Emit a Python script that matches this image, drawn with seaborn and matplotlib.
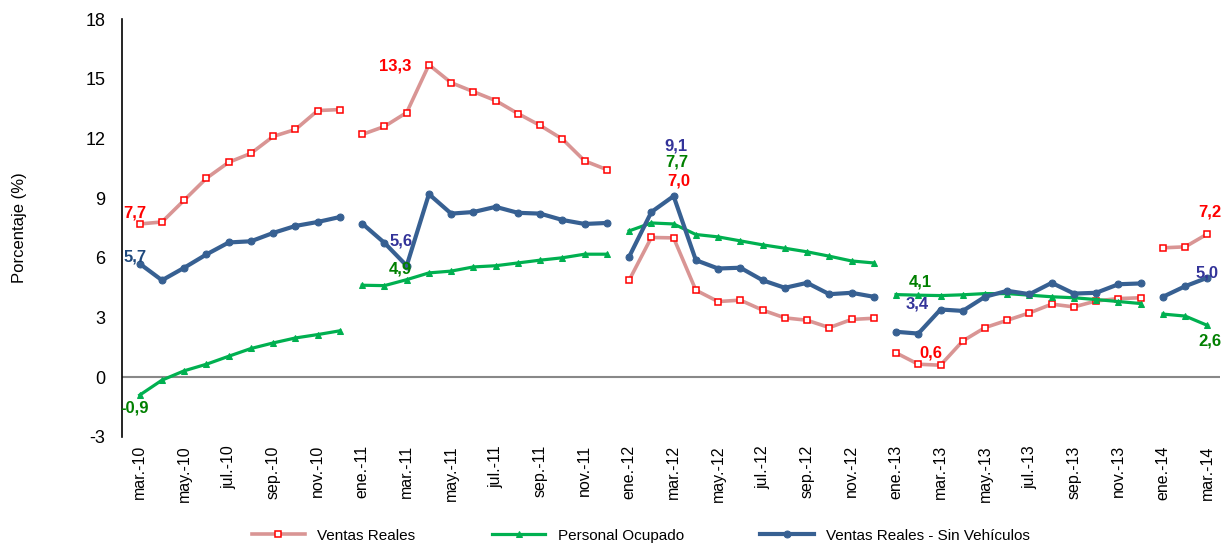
import pandas as pd
import seaborn as sns
import matplotlib.pyplot as plt

# months mar-10 .. mar-14
abbr = ['ene', 'feb', 'mar', 'abr', 'may', 'jun', 'jul', 'ago', 'sep', 'oct', 'nov', 'dic']
months = [f'{abbr[m]}.-{y}' for y in range(10, 15) for m in range(12)][2:51]
years = [int(m[-2:]) for m in months]

ventas = [7.7, 7.8, 8.9, 10.0, 10.8, 11.25, 12.1, 12.45, 13.4, 13.45,
          12.2, 12.6, 13.3, 15.7, 14.8, 14.35, 13.9, 13.25, 12.65, 11.97, 10.87, 10.43,
          4.87, 7.02, 7.0, 4.37, 3.8, 3.87, 3.37, 2.98, 2.86, 2.49, 2.9, 2.96,
          1.22, 0.65, 0.6, 1.82, 2.49, 2.86, 3.23, 3.67, 3.53, 3.83, 3.95, 3.99,
          6.5, 6.55, 7.2]
personal = [-0.9, -0.15, 0.32, 0.65, 1.05, 1.44, 1.72, 1.97, 2.14, 2.33,
            4.62, 4.6, 4.9, 5.24, 5.33, 5.54, 5.6, 5.74, 5.88, 6.0, 6.18, 6.18,
            7.35, 7.75, 7.7, 7.17, 7.05, 6.85, 6.65, 6.48, 6.3, 6.08, 5.84, 5.74,
            4.15, 4.12, 4.1, 4.14, 4.2, 4.2, 4.12, 4.04, 3.99, 3.9, 3.8, 3.7,
            3.17, 3.07, 2.6]
sin_veh = [5.7, 4.87, 5.5, 6.17, 6.77, 6.83, 7.25, 7.6, 7.8, 8.05,
           7.72, 6.75, 5.6, 9.2, 8.22, 8.3, 8.56, 8.26, 8.22, 7.9, 7.7, 7.75,
           6.05, 8.3, 9.1, 5.88, 5.46, 5.5, 4.87, 4.49, 4.74, 4.17, 4.24, 4.04,
           2.28, 2.19, 3.4, 3.33, 4.04, 4.34, 4.17, 4.74, 4.2, 4.24, 4.67, 4.71,
           4.04, 4.57, 5.0]

label_idx = [0, 12, 24, 36, 48]

df = pd.DataFrame({'idx': range(len(months)), 'year': years,
                   'ventas': ventas, 'personal': personal, 'sin_veh': sin_veh})

plt.rcParams['font.family'] = ['Liberation Sans', 'DejaVu Sans']
plt.rcParams['axes.unicode_minus'] = False
fig = plt.figure(figsize=(12.32, 5.44), dpi=100)
ax = fig.add_axes([0.099, 0.197, 0.891, 0.768])

ax.axhline(0, color='#888888', lw=1.5, zorder=1)

sns.lineplot(data=df, x='idx', y='ventas', units='year', estimator=None, ax=ax,
             color='#d99594', lw=2.6, marker='s', markersize=4,
             markerfacecolor='white', markeredgecolor='#ff0000', markeredgewidth=1.1,
             label='Ventas Reales', zorder=3)
sns.lineplot(data=df, x='idx', y='personal', units='year', estimator=None, ax=ax,
             color='#00b050', lw=2.3, marker='^', markersize=4.5,
             markeredgecolor='#00b050', label='Personal Ocupado', zorder=3)
sns.lineplot(data=df, x='idx', y='sin_veh', units='year', estimator=None, ax=ax,
             color='#376092', lw=3.0, marker='o', markersize=5,
             markeredgecolor='#376092', label='Ventas Reales - Sin Vehículos', zorder=4)

# data labels (pixel offsets from the point)
offsets = {
    'ventas': [(-5, 11), (-11, 47), (5, 57), (-10, 12), (2, 22)],
    'personal': [(-5, -13), (-6, 11), (3, 62), (-20, 14), (2, -16)],
    'sin_veh': [(-5, 7), (-6, 25), (2, 50), (-23, 6), (0, 5)],
}
label_colors = {'ventas': '#ff0000', 'personal': '#008000', 'sin_veh': '#333399'}
for col, offs in offsets.items():
    for i, (dx, dy) in zip(label_idx, offs):
        v = df[col][i]
        c = label_colors[col]
        if col == 'sin_veh' and i == 0:
            c = '#1f497d'
        ax.annotate(f'{v:.1f}'.replace('.', ','), (i, v), xytext=(dx, dy),
                    textcoords='offset pixels', ha='center', va='center',
                    fontsize=12, fontweight='bold', color=c, zorder=5)

ax.set_xlim(-0.8, 48.55)
ax.set_ylim(-3, 18)
ax.set_yticks(range(-3, 19, 3))
ax.set_xticks(range(0, len(months), 2))
ax.set_xticklabels(months[::2], rotation=90, fontsize=11.5)
ax.tick_params(axis='y', labelsize=13, length=0, pad=12)
ax.tick_params(axis='x', length=0, pad=6)
ax.set_xlabel('')
ax.set_ylabel('Porcentaje (%)', fontsize=12, labelpad=42)
for s in ['top', 'right', 'bottom']:
    ax.spines[s].set_visible(False)
ax.spines['left'].set_linewidth(1.2)

handles, labels = ax.get_legend_handles_labels()
uniq = dict(zip(labels, handles))
ax.get_legend().remove()
fig.legend(list(uniq.values()), list(uniq.keys()), loc='center', bbox_to_anchor=(0.52, 0.015),
           ncol=3, frameon=False, fontsize=11, columnspacing=5, handlelength=3.5)

fig.savefig('out.png', dpi=100)
